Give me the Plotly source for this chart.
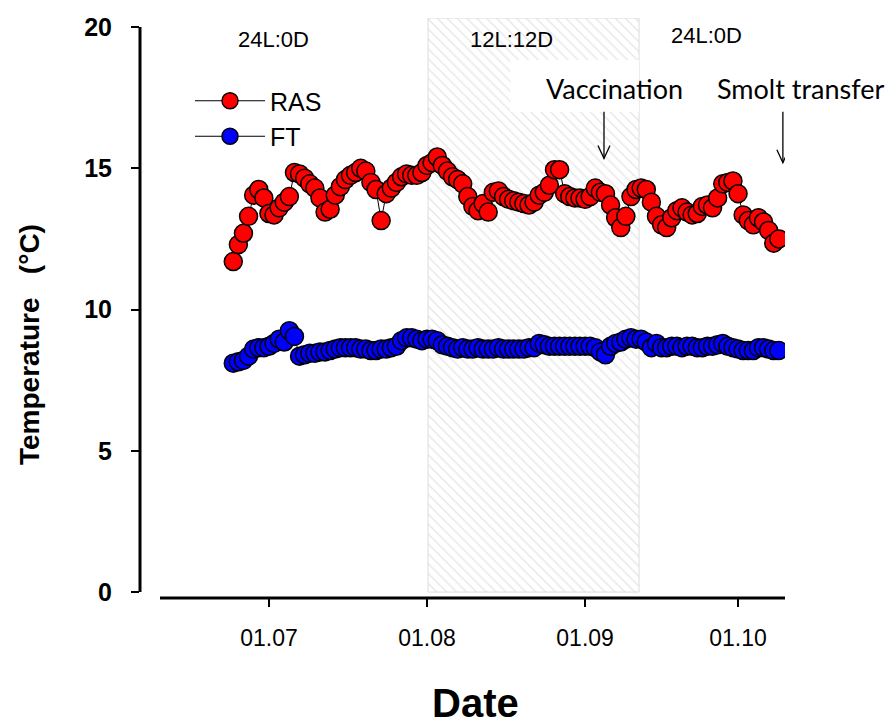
import pandas as pd
import plotly.graph_objects as go

# ---------------- data ----------------
start_date = "2017-06-24"
ras_temp = [11.7, 12.3, 12.7, 13.3, 14.05, 14.25, 13.95, 13.4, 13.35, 13.6,
            13.8, 14.0, 14.85, 14.8, 14.65, 14.45, 14.3, 13.95, 13.45, 13.55,
            14.05, 14.35, 14.6, 14.75, 14.85, 15.0, 14.9, 14.5, 14.25, 13.15,
            14.1, 14.3, 14.5, 14.7, 14.8, 14.75, 14.75, 14.85, 15.1, 15.2,
            15.4, 15.1, 14.9, 14.7, 14.6, 14.45, 14.0, 13.65, 13.5, 13.75,
            13.45, 14.15, 14.2, 14.0, 13.9, 13.85, 13.8, 13.75, 13.7, 13.8,
            14.05, 14.15, 14.4, 14.95, 14.95, 14.1, 14.0, 13.95, 13.95, 13.9,
            14.0, 14.3, 14.15, 14.1, 13.7, 13.25, 12.9, 13.3, 14.0, 14.25,
            14.3, 14.25, 13.8, 13.3, 13.0, 12.9, 13.25, 13.5, 13.6, 13.45,
            13.35, 13.4, 13.65, 13.7, 13.6, 13.95, 14.45, 14.5, 14.55, 14.1,
            13.35, 13.15, 13.0, 13.25, 13.1, 12.8, 12.35, 12.5]
ft_temp = [8.1, 8.15, 8.2, 8.35, 8.6, 8.65, 8.65, 8.7, 8.8, 8.95,
           8.85, 9.25, 9.05, 8.35, 8.4, 8.45, 8.45, 8.5, 8.5, 8.55,
           8.6, 8.65, 8.65, 8.65, 8.65, 8.6, 8.6, 8.55, 8.55, 8.6,
           8.6, 8.65, 8.7, 8.9, 9.0, 9.0, 8.95, 8.9, 8.95, 8.95,
           8.9, 8.75, 8.7, 8.65, 8.6, 8.65, 8.6, 8.6, 8.65, 8.6,
           8.6, 8.6, 8.65, 8.6, 8.6, 8.6, 8.6, 8.6, 8.65, 8.65,
           8.8, 8.75, 8.7, 8.7, 8.7, 8.7, 8.7, 8.7, 8.7, 8.7,
           8.7, 8.65, 8.5, 8.4, 8.7, 8.8, 8.85, 8.95, 9.0, 8.95,
           8.95, 8.85, 8.65, 8.8, 8.65, 8.65, 8.7, 8.7, 8.65, 8.7,
           8.7, 8.65, 8.65, 8.7, 8.7, 8.75, 8.8, 8.7, 8.65, 8.6,
           8.55, 8.55, 8.55, 8.65, 8.65, 8.6, 8.55, 8.55]
dates = pd.date_range(start_date, periods=len(ras_temp), freq="D")

tick_dates = ["2017-07-01", "2017-08-01", "2017-09-01", "2017-10-01"]
tick_labels = ["01.07", "01.08", "01.09", "01.10"]
y_ticks = [0, 5, 10, 15, 20]

dark_period = ["2017-08-01 05:00", "2017-09-11 14:00"]   # 12L:12D
event_dates = ["2017-09-04 17:00", "2017-10-09 19:00"]
event_labels = ["Vaccination", "Smolt transfer"]

x_range = ["2017-06-05 17:00", "2017-10-10 05:00"]
y_range = [-0.21, 20.32]

# ---------------- figure ----------------
fig = go.Figure()

# hatched photoperiod band
fig.add_trace(go.Scatter(
    x=[dark_period[0], dark_period[0], dark_period[1], dark_period[1], dark_period[0]],
    y=[0, y_range[1], y_range[1], 0, 0],
    mode="lines", fill="toself",
    line=dict(color="#dcdcdc", width=1),
    fillcolor="white",
    fillpattern=dict(shape="\\", fgcolor="#cfcfcf", bgcolor="white", size=7, solidity=0.2),
    showlegend=False, hoverinfo="skip"))

marker_line = dict(color="black", width=1.5)
fig.add_trace(go.Scatter(
    x=dates, y=ras_temp, name="RAS", mode="lines+markers",
    line=dict(color="black", width=1),
    marker=dict(size=18, color="#ff0000", line=marker_line)))
fig.add_trace(go.Scatter(
    x=dates, y=ft_temp, name="FT", mode="lines+markers",
    line=dict(color="black", width=1),
    marker=dict(size=18, color="#0000ff", line=marker_line)))

shapes = []
# y axis line (0 -> 20) and offset x axis line
shapes.append(dict(type="line", xref="paper", yref="y", x0=0, x1=0, y0=0, y1=20,
                   line=dict(color="black", width=3)))
shapes.append(dict(type="line", xref="paper", yref="paper", x0=0.031, x1=1, y0=0, y1=0,
                   line=dict(color="black", width=3)))
# white box behind "Vaccination"
shapes.append(dict(type="rect", xref="x", yref="y", x0="2017-08-17 08:00", x1=dark_period[1],
                   y0=17.0, y1=18.83, fillcolor="white", line=dict(width=0), layer="above"))
# arrows
for d in event_dates:
    tip = 15.35 if d == event_dates[0] else 15.2
    shapes.append(dict(type="line", xref="x", yref="y", x0=d, x1=d, y0=17.0, y1=tip,
                       line=dict(color="black", width=1.3), layer="above"))
    shapes.append(dict(type="path", xref="x", yref="y", xsizemode="pixel", ysizemode="pixel",
                       xanchor=d, yanchor=tip, path="M-6,13 L0,0 L6,13",
                       line=dict(color="black", width=1.3), layer="above"))

def px2paper_x(px):
    return (px - 140) / 645

def px2paper_y(py):
    return (598 - py) / 580

annotations = []
for txt, px, py in [("24L:0D", 273, 40), ("12L:12D", 511, 40), ("24L:0D", 706, 35)]:
    annotations.append(dict(text=txt, xref="paper", yref="paper", x=px2paper_x(px), y=px2paper_y(py),
                            showarrow=False, xanchor="center", yanchor="middle",
                            font=dict(family="Liberation Sans, Arial", size=22, color="black")))
for txt, px in zip(event_labels, [614, 801]):
    annotations.append(dict(text=txt, xref="paper", yref="paper", x=px2paper_x(px), y=px2paper_y(89),
                            showarrow=False, xanchor="center", yanchor="middle",
                            font=dict(family="Lato, Open Sans, sans-serif", size=27, color="black")))
# axis titles
annotations.append(dict(text="<b>Date</b>", xref="paper", yref="paper",
                        x=px2paper_x(475), y=px2paper_y(703), showarrow=False,
                        xanchor="center", yanchor="middle",
                        font=dict(family="Liberation Sans, Arial", size=40, color="black")))
annotations.append(dict(text="<b>Temperature   (°C)</b>", xref="paper", yref="paper",
                        x=px2paper_x(29), y=px2paper_y(344), showarrow=False, textangle=-90,
                        xanchor="center", yanchor="middle",
                        font=dict(family="Liberation Sans, Arial", size=28, color="black")))

fig.update_layout(
    width=889, height=724,
    margin=dict(l=140, r=104, t=18, b=126, autoexpand=False),
    paper_bgcolor="white", plot_bgcolor="white",
    shapes=shapes, annotations=annotations,
    legend=dict(x=px2paper_x(190), y=px2paper_y(78), xanchor="left", yanchor="top",
                font=dict(family="Liberation Sans, Arial", size=25, color="black"),
                bgcolor="rgba(0,0,0,0)", itemwidth=70, tracegroupgap=0),
    xaxis=dict(type="date", range=x_range, showline=False, showgrid=False, zeroline=False,
               automargin=False,
               tickmode="array", tickvals=tick_dates, ticktext=tick_labels,
               ticks="outside", ticklen=8, tickwidth=2, tickcolor="black",
               ticklabelstandoff=11,
               tickfont=dict(family="Liberation Sans Narrow, Arial Narrow, Liberation Sans", size=23, color="black")),
    yaxis=dict(range=y_range, showline=False, showgrid=False, zeroline=False,
               automargin=False,
               tickmode="array", tickvals=y_ticks, ticktext=[f"<b>{v}</b>" for v in y_ticks],
               ticks="outside", ticklen=8, tickwidth=2, tickcolor="black",
               ticklabelstandoff=14,
               tickfont=dict(family="Liberation Sans, Arial", size=25, color="black")),
)

fig.write_html("out.html", config={"displayModeBar": False},
               post_script="document.body.style.margin='0';")
